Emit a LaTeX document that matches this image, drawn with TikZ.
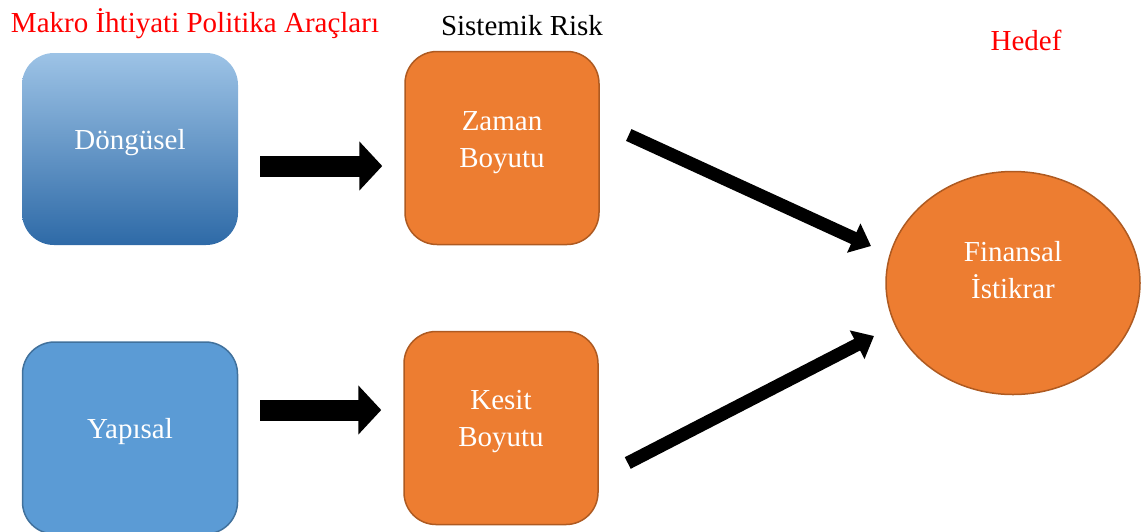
\documentclass[tikz,border=0pt]{standalone}
\usepackage{fontspec}
\setmainfont{Liberation Serif}
\usetikzlibrary{arrows.meta,calc,shapes.geometric}
\definecolor{orfill}{HTML}{ED7D31}
\definecolor{ordraw}{HTML}{AE5A21}
\definecolor{bllight}{HTML}{9DC3E6}
\definecolor{bldark}{HTML}{2E6AA7}
\definecolor{blfill}{HTML}{5B9BD5}
\definecolor{bldraw}{HTML}{41719C}
\tikzset{
  txt/.style={font=\fontsize{29}{37}\selectfont, align=center, inner sep=0pt},
  wtxt/.style={txt, text=white},
  obox/.style={rectangle, rounded corners=32pt, fill=orfill, draw=ordraw, line width=1.5pt, minimum width=194pt, minimum height=193pt},
  gbox/.style={rectangle, rounded corners=32pt, top color=bllight, bottom color=bldark, draw=none, minimum width=216pt, minimum height=192pt},
  bbox/.style={rectangle, rounded corners=32pt, fill=blfill, draw=bldraw, line width=1.5pt, minimum width=215pt, minimum height=192pt},
  oell/.style={ellipse, fill=orfill, draw=ordraw, line width=1.5pt, minimum width=254pt, minimum height=223pt, inner sep=0pt},
  blk/.style={line width=21pt, -{Triangle[width=48pt,length=23pt]}, shorten <=22pt, shorten >=22pt},
  diag/.style={line width=13pt, -{Triangle[width=31pt,length=19pt]}}
}
\begin{document}
\begin{tikzpicture}[x=1pt,y=-1pt]
\useasboundingbox (0,0) rectangle (1147,531);
% titles
\node[txt, text=red] (t1) at (195,24) {Makro İhtiyati Politika Araçları};
\node[txt] (t2) at (522,26) {Sistemik Risk};
\node[txt, text=red] (t3) at (1026,40) {Hedef};
% boxes
\node[gbox] (dong) at (130,149) {};
\node[bbox] (yap) at (130,438) {};
\node[obox] (zaman) at (502,148) {};
\node[obox] (kesit) at (501,428) {};
\node[oell] (fin) at (1013,283) {};
% texts
\node[wtxt] (dongt) at (130,143) {Döngüsel};
\node[wtxt] (yapt) at (130,432) {Yapısal};
\node[wtxt] (zamant) at (502,143) {Zaman\\Boyutu};
\node[wtxt] (kesitt) at (501,422) {Kesit\\Boyutu};
\node[wtxt] (fint) at (1013,270) {Finansal\\İstikrar};
% horizontal block arrows
\coordinate (z2) at ($(zaman.west)+(0,18)$);
\draw[blk] (dong.east |- z2) -- (z2);
\coordinate (k2) at ($(kesit.west)+(0,-18)$);
\draw[blk] (yap.east |- k2) -- (k2);
% diagonal arrows
\coordinate (d1s) at ($(zaman.east)+(29,-13)$);
\coordinate (d1e) at ($(fin.center)+(-142,-37)$);
\draw[diag] (d1s) -- (d1e);
\coordinate (d2s) at ($(kesit.east)+(29,35)$);
\coordinate (d2e) at ($(fin.center)+(-139,53)$);
\draw[diag] (d2s) -- (d2e);
\end{tikzpicture}
\end{document}
